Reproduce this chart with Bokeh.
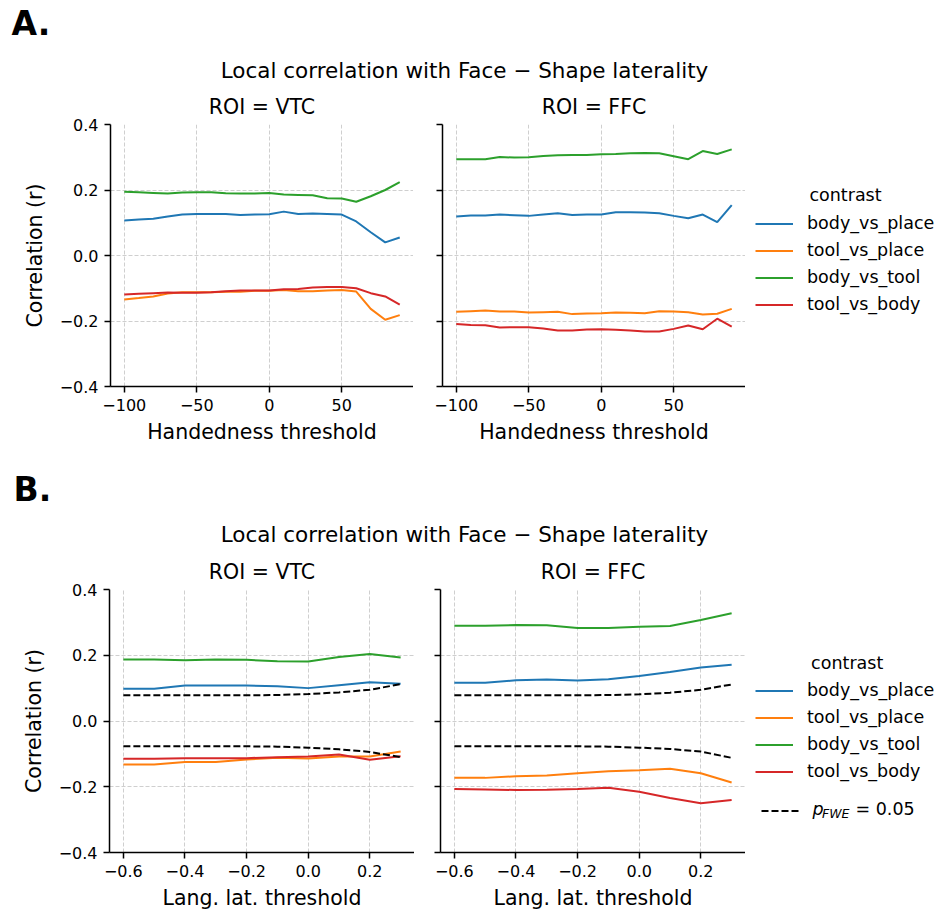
from bokeh.plotting import figure
from bokeh.layouts import column, row
from bokeh.models import (Range1d, FixedTicker, CustomJSTickFormatter, Label,
                          Legend, LegendItem)
from bokeh.embed import file_html
from bokeh.resources import INLINE

# ---------------- data ----------------
contrasts = ["body_vs_place", "tool_vs_place", "body_vs_tool", "tool_vs_body"]
colors = ["#1f77b4", "#ff7f0e", "#2ca02c", "#d62728"]

hand_thresh = [-100, -90, -80, -70, -60, -50, -40, -30, -20, -10,
               0, 10, 20, 30, 40, 50, 60, 70, 80, 90]

a_vtc_body_vs_place = [0.107, 0.110, 0.112, 0.119, 0.125, 0.127, 0.127, 0.127, 0.124, 0.125,
                       0.126, 0.134, 0.127, 0.128, 0.127, 0.125, 0.104, 0.071, 0.040, 0.055]
a_vtc_tool_vs_place = [-0.134, -0.130, -0.125, -0.116, -0.112, -0.112, -0.112, -0.111, -0.111, -0.108,
                       -0.108, -0.105, -0.109, -0.109, -0.107, -0.105, -0.110, -0.163, -0.196, -0.182]
a_vtc_body_vs_tool = [0.195, 0.193, 0.191, 0.189, 0.192, 0.193, 0.193, 0.190, 0.189, 0.189,
                      0.191, 0.186, 0.185, 0.184, 0.175, 0.174, 0.164, 0.181, 0.200, 0.224]
a_vtc_tool_vs_body = [-0.119, -0.117, -0.115, -0.113, -0.114, -0.114, -0.112, -0.109, -0.107, -0.107,
                      -0.107, -0.103, -0.102, -0.098, -0.096, -0.096, -0.100, -0.115, -0.125, -0.150]

a_ffc_body_vs_place = [0.119, 0.122, 0.122, 0.125, 0.123, 0.121, 0.125, 0.129, 0.124, 0.125,
                       0.125, 0.132, 0.132, 0.131, 0.129, 0.121, 0.114, 0.125, 0.102, 0.154]
a_ffc_tool_vs_place = [-0.172, -0.170, -0.168, -0.171, -0.171, -0.174, -0.173, -0.172, -0.179, -0.177,
                       -0.176, -0.174, -0.175, -0.176, -0.170, -0.171, -0.173, -0.180, -0.178, -0.163]
a_ffc_body_vs_tool = [0.294, 0.294, 0.294, 0.301, 0.299, 0.300, 0.304, 0.306, 0.307, 0.307,
                      0.309, 0.310, 0.312, 0.313, 0.312, 0.303, 0.294, 0.319, 0.310, 0.324]
a_ffc_tool_vs_body = [-0.209, -0.212, -0.213, -0.220, -0.219, -0.219, -0.223, -0.229, -0.229, -0.226,
                      -0.225, -0.227, -0.229, -0.232, -0.232, -0.224, -0.214, -0.225, -0.193, -0.217]

lang_thresh = [-0.6, -0.5, -0.4, -0.3, -0.2, -0.1, 0.0, 0.1, 0.2, 0.3]

b_vtc_body_vs_place = [0.098, 0.098, 0.108, 0.108, 0.108, 0.106, 0.100, 0.109, 0.118, 0.113]
b_vtc_tool_vs_place = [-0.132, -0.132, -0.125, -0.125, -0.117, -0.112, -0.114, -0.108, -0.108, -0.093]
b_vtc_body_vs_tool = [0.187, 0.187, 0.185, 0.187, 0.186, 0.182, 0.181, 0.195, 0.204, 0.193]
b_vtc_tool_vs_body = [-0.115, -0.115, -0.113, -0.113, -0.113, -0.110, -0.108, -0.102, -0.118, -0.107]
b_vtc_fwe_upper = [0.078, 0.078, 0.078, 0.078, 0.078, 0.079, 0.082, 0.087, 0.095, 0.112]
b_vtc_fwe_lower = [-0.077, -0.077, -0.077, -0.077, -0.077, -0.078, -0.081, -0.086, -0.094, -0.110]

b_ffc_body_vs_place = [0.116, 0.116, 0.124, 0.126, 0.123, 0.127, 0.137, 0.149, 0.163, 0.171]
b_ffc_tool_vs_place = [-0.173, -0.173, -0.168, -0.166, -0.159, -0.153, -0.150, -0.145, -0.159, -0.187]
b_ffc_body_vs_tool = [0.290, 0.290, 0.292, 0.291, 0.283, 0.283, 0.287, 0.289, 0.307, 0.328]
b_ffc_tool_vs_body = [-0.207, -0.208, -0.210, -0.209, -0.207, -0.203, -0.215, -0.234, -0.250, -0.240]
b_ffc_fwe_upper = [0.078, 0.078, 0.078, 0.078, 0.078, 0.079, 0.081, 0.086, 0.095, 0.111]
b_ffc_fwe_lower = [-0.077, -0.077, -0.077, -0.077, -0.077, -0.078, -0.081, -0.085, -0.093, -0.112]

y_ticks = [-0.4, -0.2, 0.0, 0.2, 0.4]
hand_ticks = [-100, -50, 0, 50]
lang_ticks = [-0.6, -0.4, -0.2, 0.0, 0.2]

suptitle = "Local correlation with Face \u2212 Shape laterality"

FONT = "DejaVu Sans"
FMT1 = "return tick.toFixed(1).replace('-', '\\u2212');"
FMT0 = "return tick.toFixed(0).replace('-', '\\u2212');"


def blank(width, height, xr=(0, 1), yr=(0, 1)):
    h = figure(width=width, height=height, output_backend="svg", toolbar_location=None,
               x_range=Range1d(*xr), y_range=Range1d(*yr),
               x_axis_location=None, y_axis_location=None,
               min_border=0, min_border_left=0, min_border_right=0,
               min_border_top=0, min_border_bottom=0)
    h.outline_line_color = None
    h.grid.visible = False
    return h


def text(p, x, y, s, size, style="normal", align="left"):
    # empirical correction so that the glyph baseline lands on y
    dy = 0.43 * size
    p.add_layout(Label(x=x, y=y + dy, x_units="screen", y_units="screen", text=s,
                       text_font=FONT, text_font_size=f"{size}px", text_font_style=style,
                       text_color="black", text_align=align, text_baseline="alphabetic"))


def header(height, letter, letter_x, letter_base, title_base):
    h = blank(940, height)
    text(h, letter_x, height - letter_base, letter, 33, "bold")
    text(h, 464, height - title_base, suptitle, 21.5, "normal", "center")
    return h


def panel(width, height, mbl, mbt, mbb, xr, xticks, xfmt, xlabel, ylabel, roi):
    p = figure(width=width, height=height, output_backend="svg", toolbar_location=None,
               x_range=Range1d(*xr), y_range=Range1d(-0.4, 0.4),
               min_border_left=mbl, min_border_right=0,
               min_border_top=mbt, min_border_bottom=mbb)
    p.outline_line_color = None
    p.title.text = roi
    p.title.align = "center"
    p.title.text_font = FONT
    p.title.text_font_size = "20.5px"
    p.title.text_font_style = "normal"
    p.title.text_color = "black"
    p.title.standoff = 11
    p.xaxis.ticker = FixedTicker(ticks=xticks)
    p.yaxis.ticker = FixedTicker(ticks=y_ticks)
    p.xaxis.formatter = CustomJSTickFormatter(code=xfmt)
    if ylabel:
        p.yaxis.formatter = CustomJSTickFormatter(code=FMT1)
        p.yaxis.axis_label = ylabel
    else:
        p.yaxis.formatter = CustomJSTickFormatter(code="return '';")
    p.xaxis.axis_label = xlabel
    for ax in (p.xaxis[0], p.yaxis[0]):
        ax.axis_line_width = 1.5
        ax.axis_line_color = "black"
        ax.major_tick_line_width = 1.5
        ax.major_tick_line_color = "black"
        ax.major_tick_out = 6
        ax.major_tick_in = 0
        ax.minor_tick_line_color = None
        ax.major_label_text_font = FONT
        ax.major_label_text_font_size = "16px"
        ax.major_label_text_color = "black"
        ax.major_label_standoff = 6
        ax.axis_label_text_font = FONT
        ax.axis_label_text_font_size = "20.5px"
        ax.axis_label_text_font_style = "normal"
        ax.axis_label_text_color = "black"
    p.xaxis.axis_label_standoff = 6
    p.yaxis.axis_label_standoff = 10
    for g in (p.xgrid[0], p.ygrid[0]):
        g.grid_line_color = "#cfcfcf"
        g.grid_line_width = 1
        g.grid_line_dash = "4 2"
    return p


def add_lines(p, x, series):
    for ys, c in zip(series, colors):
        p.line(x, ys, line_color=c, line_width=2)


def legend_fig(height, frame_bottom, x, series, first_center, contrast_cx, contrast_base):
    # legend panel occupying page x 745..940; its frame is aligned with the row's frames,
    # the ranges keep the series (used only for the legend keys) out of view
    lf = blank(195, height, xr=(1000, 1001), yr=(1000, 1001))
    rs = [lf.line(x, ys, line_color=c, line_width=2) for ys, c in zip(series, colors)]
    gh, sp = 21, 6
    top = first_center - gh / 2
    bottom = top + 4 * gh + 3 * sp
    leg = Legend(items=[LegendItem(label=n, renderers=[r]) for n, r in zip(contrasts, rs)],
                 location=(10, frame_bottom - bottom), orientation="vertical",
                 padding=0, margin=0, spacing=sp, glyph_width=38, glyph_height=gh,
                 label_height=gh, label_standoff=14, label_text_font=FONT,
                 label_text_font_size="17.5px", label_text_color="black",
                 border_line_color=None, background_fill_alpha=0)
    lf.add_layout(leg)
    text(lf, contrast_cx - 745, frame_bottom - contrast_base, "contrast", 17.5,
         "normal", "center")
    return lf


# ---------------- section A ----------------
MT = 38          # space above each panel frame (holds the ROI title)
HA = 124 - MT    # header A height; frame top of row A at page y 124
hA = header(HA, "A.", 11, 36.7, 79.3)
RA = 386 + 74 - HA   # row A height; frame bottom at page y 386

pA1 = panel(413, RA, 110, MT, 74, (-109.5, 99.5), hand_ticks, FMT0,
            "Handedness threshold", "Correlation (r)", "ROI = VTC")
add_lines(pA1, hand_thresh, [a_vtc_body_vs_place, a_vtc_tool_vs_place,
                             a_vtc_body_vs_tool, a_vtc_tool_vs_body])

pA2 = panel(332, RA, 29, MT, 74, (-109.5, 99.5), hand_ticks, FMT0,
            "Handedness threshold", None, "ROI = FFC")
add_lines(pA2, hand_thresh, [a_ffc_body_vs_place, a_ffc_tool_vs_place,
                             a_ffc_body_vs_tool, a_ffc_tool_vs_body])

lA = legend_fig(RA, 386, hand_thresh, [a_ffc_body_vs_place, a_ffc_tool_vs_place,
                                       a_ffc_body_vs_tool, a_ffc_tool_vs_body],
                223, 845, 202)

# ---------------- section B ----------------
TOPB = HA + RA
HB = 589 - MT - TOPB
hB = header(HB, "B.", 13, 503.3 - TOPB, 543.3 - TOPB)
RB = 913 - TOPB - HB  # row height

pB1 = panel(414, RB, 109, MT, RB - MT - 263, (-0.645, 0.345), lang_ticks, FMT1,
            "Lang. lat. threshold", "Correlation (r)", "ROI = VTC")
add_lines(pB1, lang_thresh, [b_vtc_body_vs_place, b_vtc_tool_vs_place,
                             b_vtc_body_vs_tool, b_vtc_tool_vs_body])
pB1.line(lang_thresh, b_vtc_fwe_upper, line_color="black", line_width=2, line_dash="7 3")
pB1.line(lang_thresh, b_vtc_fwe_lower, line_color="black", line_width=2, line_dash="7 3")

pB2 = panel(331, RB, 26, MT, RB - MT - 263, (-0.645, 0.345), lang_ticks, FMT1,
            "Lang. lat. threshold", None, "ROI = FFC")
add_lines(pB2, lang_thresh, [b_ffc_body_vs_place, b_ffc_tool_vs_place,
                             b_ffc_body_vs_tool, b_ffc_tool_vs_body])
pB2.line(lang_thresh, b_ffc_fwe_upper, line_color="black", line_width=2, line_dash="7 3")
pB2.line(lang_thresh, b_ffc_fwe_lower, line_color="black", line_width=2, line_dash="7 3")

FB = 852  # page y of frame bottom in section B
lB = legend_fig(RB, FB, lang_thresh, [b_ffc_body_vs_place, b_ffc_tool_vs_place,
                                      b_ffc_body_vs_tool, b_ffc_tool_vs_body],
                690, 846.7, 670)
rf = lB.line(lang_thresh, b_ffc_fwe_upper, line_color="black", line_width=2, line_dash="7 3")
legF = Legend(items=[LegendItem(label="", renderers=[rf])],
              location=(760.5 - 745, FB - 821.2), orientation="vertical",
              padding=0, margin=0, spacing=0, glyph_width=38, glyph_height=21,
              label_height=21, label_standoff=0, label_width=0,
              border_line_color=None, background_fill_alpha=0)
lB.add_layout(legF)
text(lB, 812 - 745, FB - 815.7, "p", 17.5, "italic")
text(lB, 821.5 - 745, FB - 818.8, "FWE", 12.5, "italic")
text(lB, 855 - 745, FB - 815.7, "= 0.05", 17.5)

layout = column(hA, row(pA1, pA2, lA), hB, row(pB1, pB2, lB), spacing=0)

open("out.html", "w").write(file_html(layout, INLINE))
